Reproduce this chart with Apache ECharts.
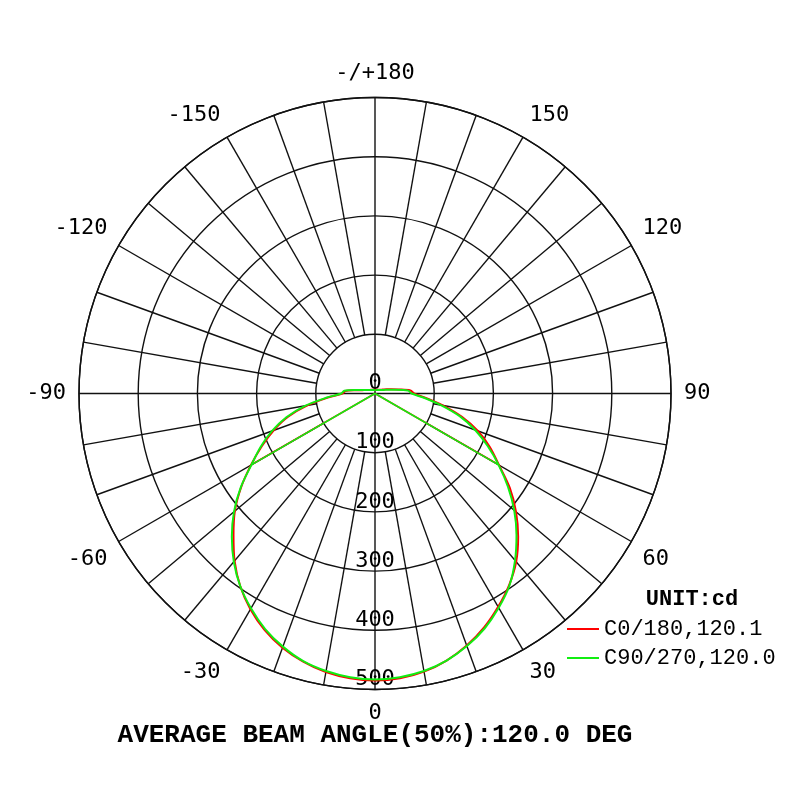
<!DOCTYPE html>
<html lang="en">
<head>
    <meta charset="UTF-8">
    <title>polar intensity</title>
    <style>
        body {
            margin: 0;
            padding: 0;
            background: #fff;
        }
        #chart {
            width: 800px;
            height: 800px;
        }
    </style>
</head>
<body>
<div id="chart"></div>
<script src="https://cdn.jsdelivr.net/npm/echarts@6/dist/echarts.min.js"></script>
<script>
    // gamma angles, 0 = straight down, +90 = right, -90 = left
    const gammaDeg = [
        -180, -175, -170, -165, -160, -155, -150, -145, -140, -135, -130, -125,
        -120, -115, -110, -105, -100, -95, -90, -85, -80, -75, -70, -65,
        -60, -55, -50, -45, -40, -35, -30, -25, -20, -15, -10, -5,
        0, 5, 10, 15, 20, 25, 30, 35, 40, 45, 50, 55,
        60, 65, 70, 75, 80, 85, 90, 95, 100, 105, 110, 115,
        120, 125, 130, 135, 140, 145, 150, 155, 160, 165, 170, 175, 180
    ];
    // C0/180 plane, cd
    const c0Values = [
        6.5, 6.5, 6.5, 6.6, 6.8, 7, 7.3, 7.7, 8.2, 8.8, 9.5, 10.5,
        12, 14, 17, 22, 32, 50, 55, 80, 116, 152, 182, 211,
        242, 276, 309, 338, 369, 397, 421, 441, 457, 469, 478, 483,
        485, 483, 477, 467, 453, 436, 416, 395, 371, 342, 311, 278,
        242, 214, 185, 152, 117, 86, 66, 60, 40, 28, 21, 16,
        13, 11, 10, 9, 8.4, 7.8, 7.3, 7, 6.8, 6.6, 6.5, 6.5, 6.5
    ];
    // C90/270 plane, cd
    const c90Values = [
        6, 6, 6, 6.2, 6.3, 6.6, 6.9, 7.3, 7.8, 8.5, 9, 10,
        12, 14, 17, 23, 34, 52, 57, 83, 120, 155, 185, 213,
        241, 277, 311, 342, 371, 397, 419, 439, 455, 468, 476, 481,
        483, 481, 476, 467, 454, 438, 418, 396, 368, 338, 307, 274,
        241, 210, 180, 148, 113, 83, 62, 56, 36, 24, 18, 14,
        12, 10, 9, 8.5, 7.8, 7.3, 6.9, 6.6, 6.3, 6.2, 6, 6, 6
    ];
    // half-intensity lines: [cd, gamma]
    const c0Beam = [[242, -60.05], [0, 0], [242, 60.05]];
    const c90Beam = [[241, -60], [0, 0], [241, 60]];

    const radialTicks = [0, 100, 200, 300, 400, 500];
    const angleTicks = [-180, -150, -120, -90, -60, -30, 0, 30, 60, 90, 120, 150, 180];
    const seriesNames = ["C0/180,120.1", "C90/270,120.0"];
    const unitText = "UNIT:cd";
    const footText = "AVERAGE BEAM ANGLE(50%):120.0 DEG";

    const spokes = [];
    for (let a = -180; a < 180; a += 10) {
        spokes.push([a % 90 === 0 ? 0 : 100, a]);
    }

    const chart = echarts.init(document.getElementById("chart"), null, {renderer: "canvas"});

    const gridColor = "#111";
    const labelFont = {fontFamily: "DejaVu Sans Mono", fontSize: 22, color: "#000"};

    function toPolar(values) {
        return gammaDeg.map((g, i) => [values[i], g]);
    }

    function renderSpoke(params, api) {
        const a = api.value(1);
        const p0 = api.coord([api.value(0), a]);
        const p1 = api.coord([500, a]);
        return {
            type: "line",
            shape: {x1: p0[0], y1: p0[1], x2: p1[0], y2: p1[1]},
            style: {stroke: gridColor, lineWidth: 1.4}
        };
    }

    function renderRadialLabel(params, api) {
        const p = api.coord([api.value(0), 0]);
        return {
            type: "text",
            x: p[0],
            y: p[1] - 10,
            style: {
                text: String(api.value(0)),
                align: "center",
                verticalAlign: "middle",
                fontFamily: labelFont.fontFamily,
                fontSize: labelFont.fontSize,
                fill: "#000"
            }
        };
    }

    const option = {
        backgroundColor: "#fff",
        animation: false,
        title: [
            {
                text: unitText,
                left: 692,
                top: 588,
                textAlign: "center",
                padding: 0,
                textStyle: {fontFamily: "Liberation Mono", fontSize: 22, fontWeight: "bold", color: "#000", lineHeight: 22}
            },
            {
                text: footText,
                left: 375,
                top: 722,
                textAlign: "center",
                padding: 0,
                textStyle: {fontFamily: "Liberation Mono", fontSize: 26, fontWeight: "bold", color: "#000", lineHeight: 26}
            }
        ],
        legend: {
            data: seriesNames,
            orient: "vertical",
            left: 567,
            top: 618,
            padding: 0,
            icon: "rect",
            itemWidth: 32,
            itemHeight: 2,
            itemGap: 7,
            selectedMode: false,
            textStyle: {fontFamily: "Liberation Mono", fontSize: 22, color: "#000", lineHeight: 22}
        },
        polar: {
            center: [375, 393.5],
            radius: 296
        },
        angleAxis: {
            type: "value",
            min: -180,
            max: 180,
            interval: 30,
            startAngle: 90,
            clockwise: false,
            axisLine: {show: true, lineStyle: {color: gridColor, width: 1.4}},
            axisTick: {show: false},
            splitLine: {show: false},
            axisLabel: {
                margin: 13,
                fontFamily: labelFont.fontFamily,
                fontSize: labelFont.fontSize,
                color: labelFont.color,
                formatter: (v) => {
                    if (!angleTicks.includes(v) || v === 180) return "";
                    return v === -180 ? "-/+180" : String(v);
                }
            }
        },
        radiusAxis: {
            type: "value",
            min: 0,
            max: 500,
            interval: 100,
            axisLine: {show: false},
            axisTick: {show: false},
            axisLabel: {show: false},
            splitLine: {show: true, lineStyle: {color: gridColor, width: 1.4}}
        },
        series: [
            {
                name: "spokes",
                type: "custom",
                coordinateSystem: "polar",
                silent: true,
                z: 1,
                data: spokes,
                renderItem: renderSpoke
            },
            {
                name: "radial labels",
                type: "custom",
                coordinateSystem: "polar",
                silent: true,
                z: 2,
                data: radialTicks.map(r => [r, 0]),
                renderItem: renderRadialLabel
            },
            {
                name: seriesNames[0],
                type: "line",
                coordinateSystem: "polar",
                data: toPolar(c0Values),
                symbol: "none",
                smooth: 0.3,
                z: 3,
                lineStyle: {color: "#ff0000", width: 2},
                itemStyle: {color: "#ff0000"}
            },
            {
                name: "c0 beam",
                type: "line",
                coordinateSystem: "polar",
                data: c0Beam,
                symbol: "none",
                z: 3,
                lineStyle: {color: "#ff0000", width: 1.6}
            },
            {
                name: seriesNames[1],
                type: "line",
                coordinateSystem: "polar",
                data: toPolar(c90Values),
                symbol: "none",
                smooth: 0.3,
                z: 4,
                lineStyle: {color: "#11ee11", width: 2},
                itemStyle: {color: "#11ee11"}
            },
            {
                name: "c90 beam",
                type: "line",
                coordinateSystem: "polar",
                data: c90Beam,
                symbol: "none",
                z: 4,
                lineStyle: {color: "#11ee11", width: 1.6}
            }
        ]
    };

    chart.setOption(option);
</script>
</body>
</html>
